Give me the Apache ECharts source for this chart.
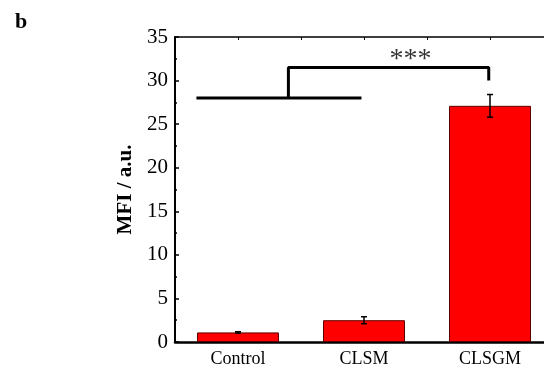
<!DOCTYPE html>
<html>
<head>
<meta charset="utf-8">
<script src="https://cdn.jsdelivr.net/npm/echarts@6/dist/echarts.min.js"></script>
<style>html,body{margin:0;padding:0;background:#fff;}#c{width:544px;height:374px;}</style>
</head>
<body>
<div id="c"></div>
<script>
const categories = ['Control', 'CLSM', 'CLSGM'];
const mfiValues = [1.1, 2.5, 27.1];
const mfiErrors = [0.08, 0.4, 1.3];
const yTicks = [0, 5, 10, 15, 20, 25, 30, 35];
// significance bracket in data units (x: category index space 0..3, y: MFI)
const bracketBase = [[0.17, 28], [1.48, 28]];
const bracketTop = [[0.9, 28], [0.9, 31.5], [2.49, 31.5], [2.49, 30]];
const sigLabel = '***';
const sigLabelPos = [1.87, 32.45];

const chart = echarts.init(document.getElementById('c'));
const FONT = '"Liberation Serif", "Times New Roman", serif';

chart.setOption({
  animation: false,
  backgroundColor: '#fff',
  grid: { left: 175, width: 378, top: 37, bottom: 32, containLabel: false, outerBoundsMode: 'none' },
  graphic: [
    { type: 'text', left: 15, top: 11, style: { text: 'b', font: 'bold 22px ' + FONT, fill: '#000' } }
  ],
  xAxis: [
    {
      type: 'category', data: categories, position: 'bottom',
      axisLine: { lineStyle: { color: '#000', width: 2.5 } },
      axisTick: { show: false },
      axisLabel: { color: '#000', fontFamily: FONT, fontSize: 18, margin: 8 }
    },
    {
      type: 'value', min: 0, max: 6, interval: 1, position: 'top',
      axisLine: { show: true, onZero: false, lineStyle: { color: '#000', width: 1.5 } },
      axisTick: { show: true, inside: true, length: 3, lineStyle: { color: '#000', width: 1 } },
      axisLabel: { show: false }, splitLine: { show: false }
    },
    {
      type: 'value', min: 0, max: 3, show: false
    }
  ],
  yAxis: {
    type: 'value', min: yTicks[0], max: yTicks[yTicks.length - 1], interval: 5,
    name: 'MFI / a.u.', nameLocation: 'middle', nameGap: 38,
    nameTextStyle: { fontFamily: FONT, fontWeight: 'bold', fontSize: 21, color: '#000' },
    axisLine: { show: true, lineStyle: { color: '#000', width: 2 } },
    axisTick: { show: true, inside: true, length: 4, lineStyle: { color: '#000', width: 1.5 } },
    minorTick: { show: true, splitNumber: 2, length: 2, lineStyle: { color: '#000', width: 1.5 } },
    axisLabel: { color: '#000', fontFamily: FONT, fontSize: 21, margin: 7 },
    splitLine: { show: false }
  },
  series: [
    {
      type: 'bar', data: mfiValues, barWidth: 82, xAxisIndex: 0,
      itemStyle: { color: '#ff0000', borderColor: '#5a0000', borderWidth: 1 }
    },
    {
      type: 'custom', xAxisIndex: 0, z: 5,
      data: mfiValues.map((v, i) => [i, v, mfiErrors[i]]),
      renderItem: function (params, api) {
        const i = api.value(0), v = api.value(1), e = api.value(2);
        const hi = api.coord([i, v + e]);
        const lo = api.coord([i, v - e]);
        const w = 3;
        const st = { stroke: '#000', lineWidth: 1.5 };
        return { type: 'group', children: [
          { type: 'line', shape: { x1: hi[0], y1: hi[1], x2: lo[0], y2: lo[1] }, style: st },
          { type: 'line', shape: { x1: hi[0] - w, y1: hi[1], x2: hi[0] + w, y2: hi[1] }, style: st },
          { type: 'line', shape: { x1: lo[0] - w, y1: lo[1], x2: lo[0] + w, y2: lo[1] }, style: st }
        ]};
      }
    },
    {
      type: 'line', xAxisIndex: 2, data: bracketBase, symbol: 'none',
      lineStyle: { color: '#000', width: 3 }
    },
    {
      type: 'line', xAxisIndex: 2, data: bracketTop, symbol: 'none',
      lineStyle: { color: '#000', width: 3 }
    },
    {
      type: 'scatter', xAxisIndex: 2, data: [sigLabelPos], symbolSize: 0,
      label: { show: true, position: 'inside', formatter: sigLabel, color: '#000', fontFamily: FONT, fontSize: 28 }
    }
  ]
});
</script>
</body>
</html>
